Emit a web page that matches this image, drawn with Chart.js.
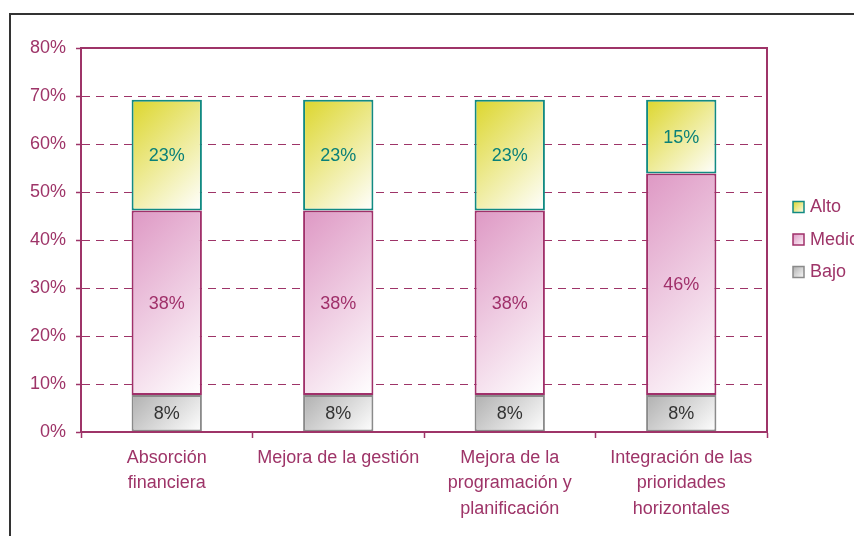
<!DOCTYPE html>
<html>
<head>
<meta charset="utf-8">
<script src="https://cdn.jsdelivr.net/npm/chart.js@4"></script>
<style>
  body { margin: 0; background: #fff; overflow: hidden; }
  #wrap { position: relative; width: 854px; height: 536px; }
  #frame { position: absolute; left: 9px; top: 13px; width: 900px; height: 600px;
           border-top: 2px solid #333; border-left: 2px solid #333; pointer-events: none; }
</style>
</head>
<body>
<div id="wrap">
  <canvas id="myChart" width="854" height="536"></canvas>
  <div id="frame"></div>
</div>
<script>
// datos
var categorias = [
    ['Absorción', 'financiera'],
    ['Mejora de la gestión'],
    ['Mejora de la', 'programación y', 'planificación'],
    ['Integración de las', 'prioridades', 'horizontales']
];
var bajo  = [7.69, 7.69, 7.69, 7.69];
var medio = [38.46, 38.46, 38.46, 46.15];
var alto  = [23.08, 23.08, 23.08, 15.38];
var yTicks = [0, 10, 20, 30, 40, 50, 60, 70, 80];

var series = [bajo, medio, alto];
var granate = '#9e3468';
var fuente = "'Liberation Sans', Arial, sans-serif";

// degradado a 45 grados desde la esquina superior izquierda
function degradado(c0, c1) {
    return function (context) {
        var chart = context.chart;
        if (!chart.chartArea || context.dataIndex === undefined) return c0;
        var i = context.dataIndex, d = context.datasetIndex;
        var base = 0;
        for (var k = 0; k < d; k++) base += series[k][i];
        var tope = base + series[d][i];
        var xc = chart.scales.x.getPixelForValue(i);
        var yt = chart.scales.y.getPixelForValue(tope);
        var yb = chart.scales.y.getPixelForValue(base);
        var w = 70, h = yb - yt, s = (w + h) / 2;
        var g = chart.ctx.createLinearGradient(xc - 35, yt, xc - 35 + s, yt + s);
        g.addColorStop(0, c0);
        g.addColorStop(1, c1);
        return g;
    };
}

// marco del área, etiquetas y leyenda
var extras = {
    id: 'extras',
    afterDatasetsDraw: function (chart) {
        var ctx = chart.ctx, a = chart.chartArea;
        ctx.save();
        ctx.strokeStyle = granate;
        ctx.lineWidth = 2;
        ctx.strokeRect(a.left, a.top, a.right - a.left, a.bottom - a.top);

        ctx.font = '18px ' + fuente;
        ctx.textAlign = 'center';
        ctx.textBaseline = 'middle';
        chart.data.datasets.forEach(function (ds, d) {
            chart.getDatasetMeta(d).data.forEach(function (bar, i) {
                var p = bar.getProps(['x', 'y', 'base'], true);
                ctx.fillStyle = ds.labelColor;
                ctx.fillText(Math.round(ds.data[i]) + '%', p.x, (p.y + p.base) / 2 + 1);
            });
        });

        // leyenda
        var orden = [2, 1, 0];
        var cy = (a.top + a.bottom) / 2;
        orden.forEach(function (d, n) {
            var ds = chart.data.datasets[d];
            var y = cy + (n - 1) * 32.5;
            var x = a.right + 26;
            var g = ctx.createLinearGradient(x, y - 6, x + 12, y + 6);
            g.addColorStop(0, ds.c0);
            g.addColorStop(1, '#ffffff');
            ctx.fillStyle = g;
            ctx.fillRect(x, y - 6, 11, 11);
            ctx.strokeStyle = ds.borderColor;
            ctx.lineWidth = 1.5;
            ctx.strokeRect(x, y - 6, 11, 11);
            ctx.fillStyle = granate;
            ctx.textAlign = 'left';
            ctx.fillText(ds.label, x + 17, y);
        });
        ctx.restore();
    }
};

var ctx = document.getElementById('myChart').getContext('2d');

var myChart = new Chart(ctx, {
    type: 'bar',
    data: {
        labels: categorias,
        datasets: [{
            label: 'Bajo',
            data: bajo,
            c0: '#b0b0b0',
            backgroundColor: degradado('#b0b0b0', '#ffffff'),
            borderColor: '#8a8a8a',
            labelColor: '#333333'
        }, {
            label: 'Medio',
            data: medio,
            c0: '#de98c4',
            backgroundColor: degradado('#de98c4', '#ffffff'),
            borderColor: '#a0306a',
            labelColor: '#a0306a'
        }, {
            label: 'Alto',
            data: alto,
            c0: '#dcd62c',
            backgroundColor: degradado('#dcd62c', '#ffffff'),
            borderColor: '#128a82',
            labelColor: '#0a8078'
        }]
    },
    options: {
        responsive: false,
        animation: false,
        layout: { padding: { top: 48, right: 87, left: 0, bottom: 0 } },
        datasets: {
            bar: {
                borderWidth: 2,
                borderSkipped: false,
                barPercentage: 0.41,
                categoryPercentage: 1
            }
        },
        plugins: {
            legend: { display: false },
            tooltip: { enabled: false }
        },
        scales: {
            x: {
                stacked: true,
                afterFit: function (s) { s.height = 104; },
                grid: { drawOnChartArea: false, tickLength: 6, tickColor: granate, tickWidth: 1.5 },
                border: { color: granate, width: 2 },
                ticks: {
                    color: granate,
                    padding: 7,
                    maxRotation: 0,
                    autoSkip: false,
                    font: { family: fuente, size: 18, lineHeight: '25.5px' }
                }
            },
            y: {
                stacked: true,
                min: 0,
                max: 80,
                afterFit: function (s) { s.width = 81; },
                afterBuildTicks: function (s) { s.ticks = yTicks.map(function (v) { return { value: v }; }); },
                grid: { color: granate, lineWidth: 1, tickLength: 5, tickColor: granate, tickWidth: 1.5 },
                border: { color: granate, width: 2, dash: [8, 6] },
                ticks: {
                    color: granate,
                    padding: 10,
                    font: { family: fuente, size: 18 },
                    callback: function (v) { return v + '%'; }
                }
            }
        }
    },
    plugins: [extras]
});
</script>
</body>
</html>
